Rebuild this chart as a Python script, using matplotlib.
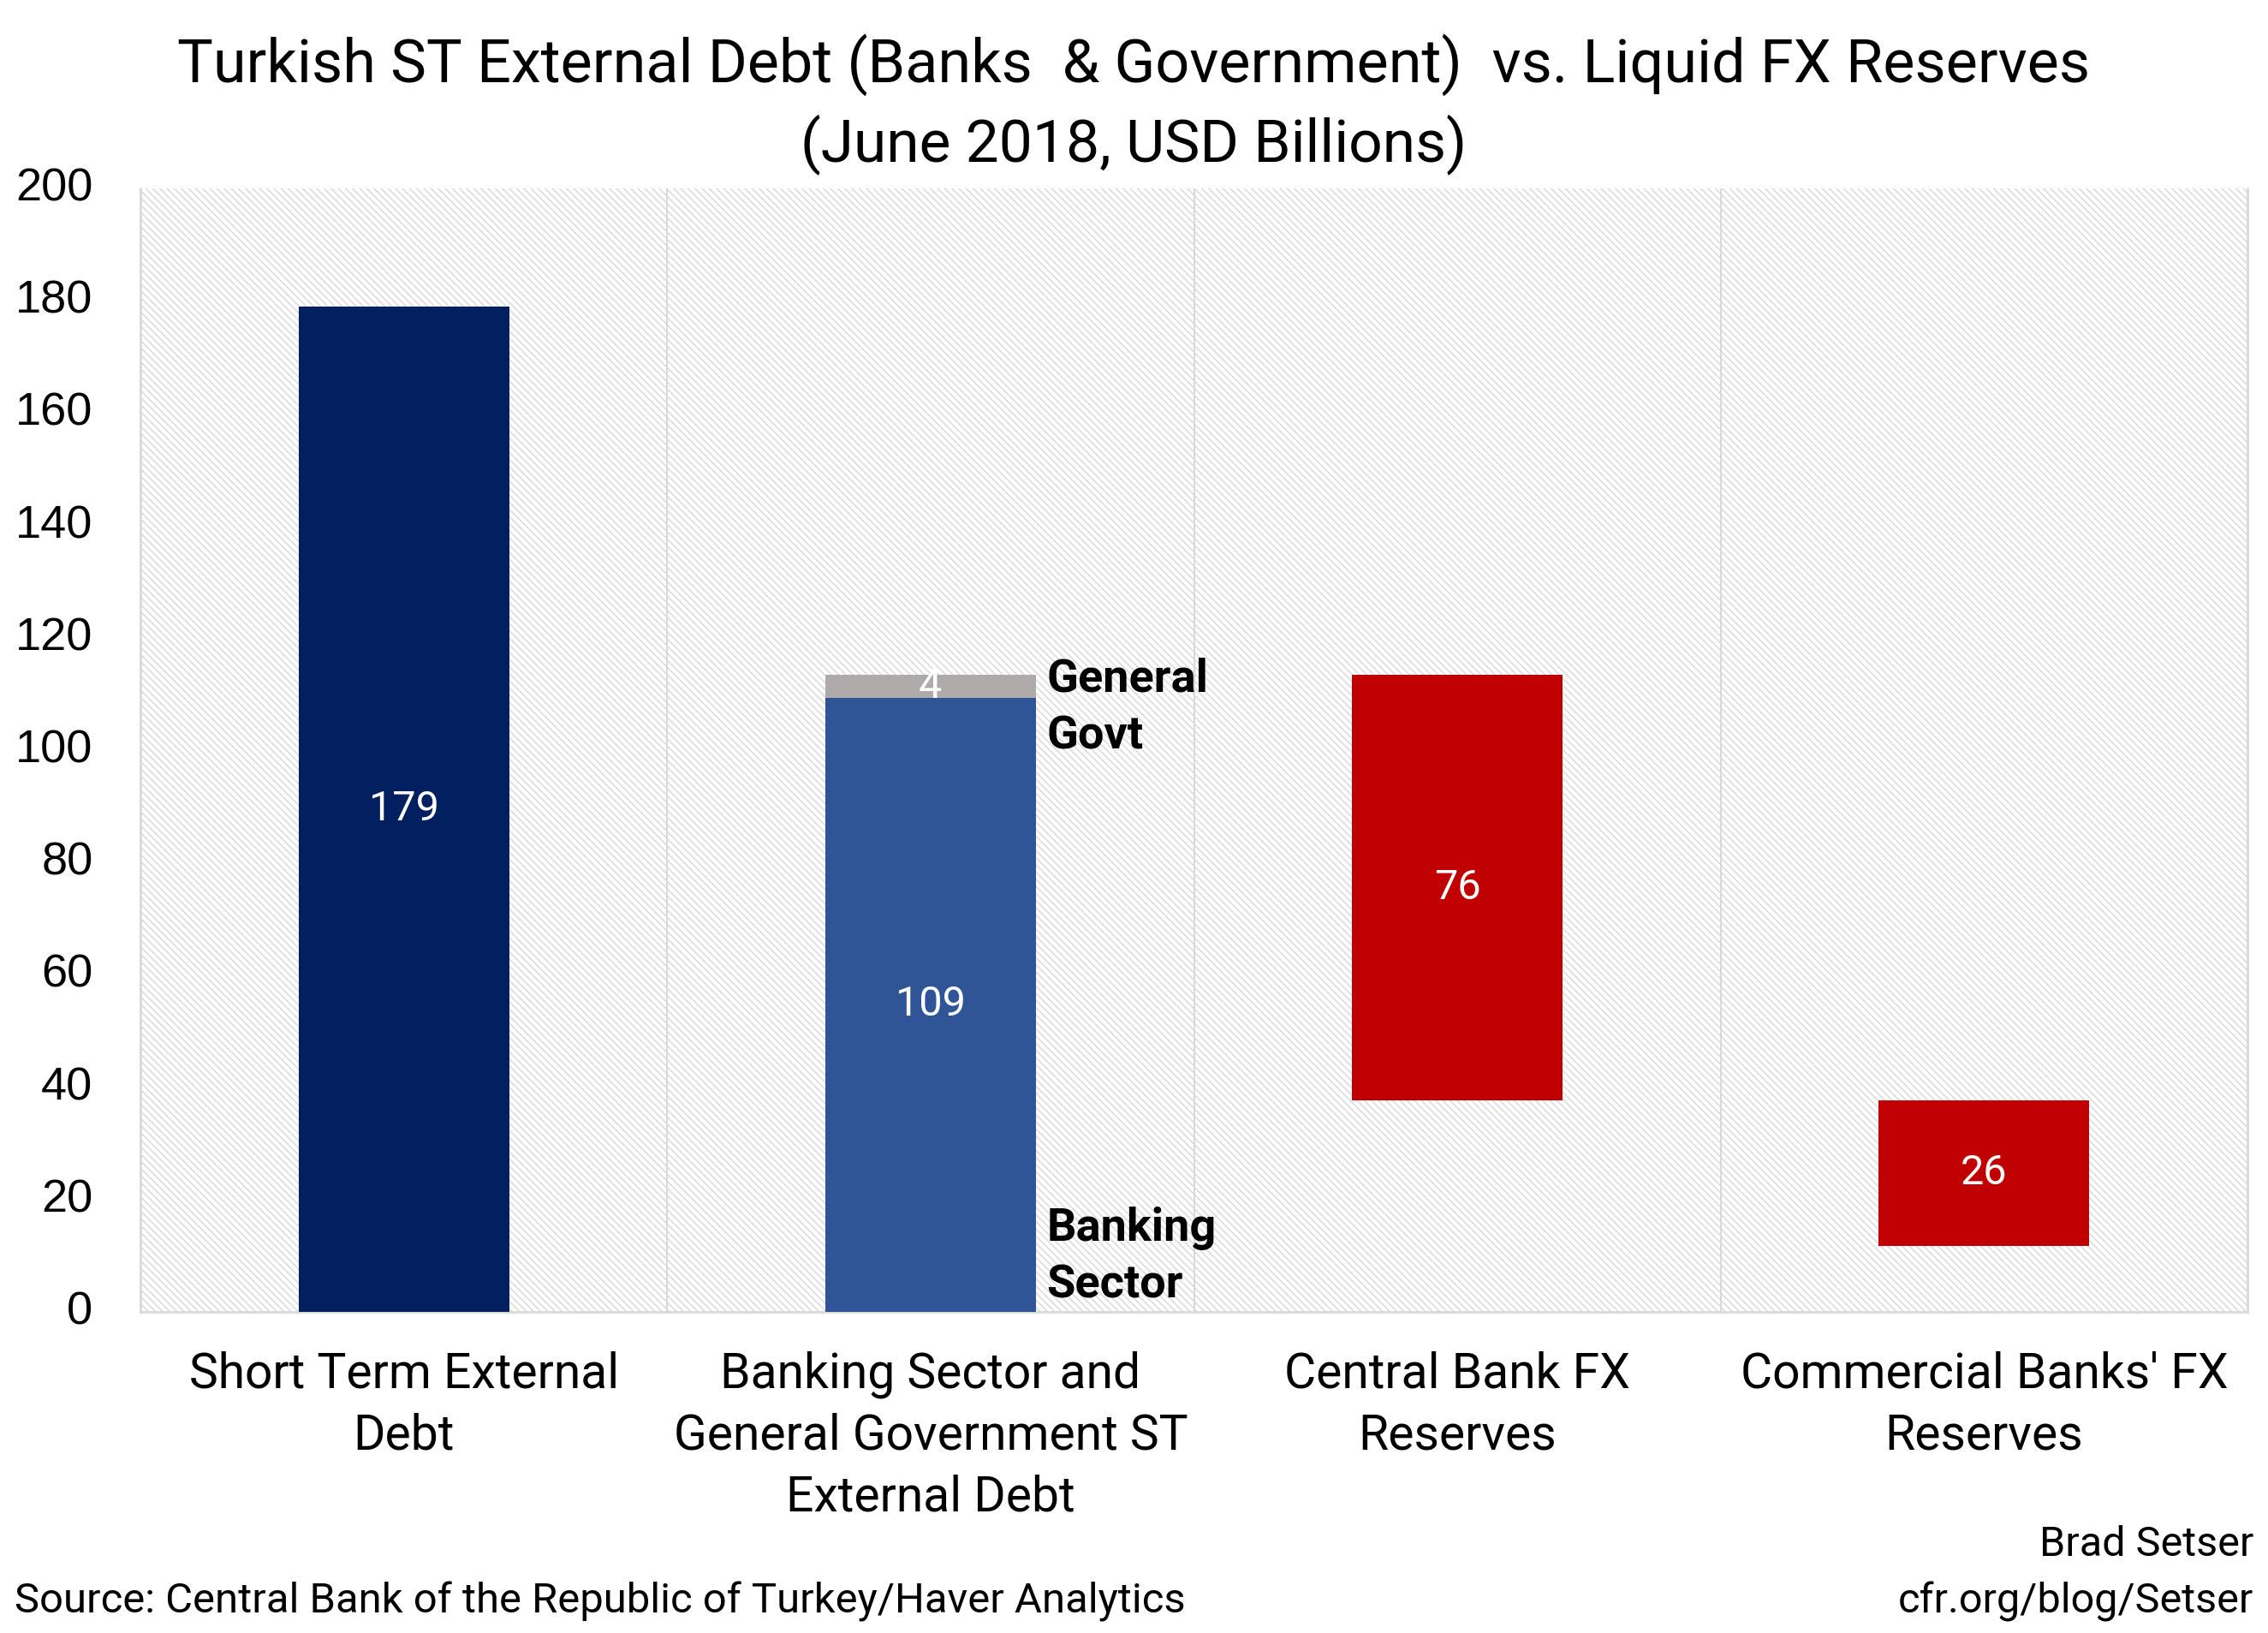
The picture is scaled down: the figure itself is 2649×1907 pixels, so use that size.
import matplotlib
matplotlib.use("Agg")
import matplotlib.pyplot as plt
from matplotlib.patches import Rectangle
from matplotlib.transforms import ScaledTranslation

# ---- data ----
categories = ["Short Term External\nDebt",
              "Banking Sector and\nGeneral Government ST\nExternal Debt",
              "Central Bank FX\nReserves",
              "Commercial Banks' FX\nReserves"]
st_external_debt = 179.0
banking_sector = 109.3
general_govt = 4.1
cb_fx_reserves = 75.8
commercial_fx_reserves = 25.9
yticks = [0, 20, 40, 60, 80, 100, 120, 140, 160, 180, 200]

FONT = "Roboto"
plt.rcParams['font.family'] = [FONT, 'DejaVu Sans']
plt.rcParams['hatch.linewidth'] = 0.9
plt.rcParams['hatch.color'] = '#d3d3d3'

fig = plt.figure(figsize=(26.49, 19.07), dpi=100)
ax = fig.add_axes([164/2649, 1-1532/1907, (2625-164)/2649, (1532-220)/1907])

# hatched background
bg = Rectangle((0, 0), 1, 1, transform=ax.transAxes, facecolor='white',
               edgecolor='#d3d3d3', hatch='\\\\\\\\', linewidth=0, zorder=0)
ax.add_patch(bg)
ax.set_facecolor('white')

x = [0, 1, 2, 3]
w = 0.4
navy = '#02205F'
blue = '#2F5597'
grey = '#AEAAAA'
red = '#C00000'

govt_top = banking_sector + general_govt
cb_bottom = govt_top - cb_fx_reserves
comm_bottom = cb_bottom - commercial_fx_reserves

ax.bar(x[0], st_external_debt, width=w, color=navy, zorder=3)
ax.bar(x[1], banking_sector, width=w, color=blue, zorder=3)
ax.bar(x[1], general_govt, bottom=banking_sector, width=w, color=grey, zorder=3)
ax.bar(x[2], cb_fx_reserves, bottom=cb_bottom, width=w, color=red, zorder=3)
ax.bar(x[3], commercial_fx_reserves, bottom=comm_bottom, width=w, color=red, zorder=3)

lab_fs = 35
ax.text(x[0], st_external_debt/2, f"{st_external_debt:.0f}", color='white',
        ha='center', va='center', fontsize=lab_fs, zorder=4)
ax.text(x[1], banking_sector/2, f"{banking_sector:.0f}", color='white',
        ha='center', va='center', fontsize=lab_fs, zorder=4)
ax.text(x[1], banking_sector + general_govt/2, f"{general_govt:.0f}", color='white',
        ha='center', va='center', fontsize=lab_fs, zorder=4)
ax.text(x[2], cb_bottom + cb_fx_reserves/2, f"{cb_fx_reserves:.0f}", color='white',
        ha='center', va='center', fontsize=lab_fs, zorder=4)
ax.text(x[3], comm_bottom + commercial_fx_reserves/2, f"{commercial_fx_reserves:.0f}",
        color='white', ha='center', va='center', fontsize=lab_fs, zorder=4)

ax.text(x[1] + w/2 + 0.02, 107.5, "General\nGovt", fontsize=39, fontweight='bold',
        ha='left', va='center', linespacing=1.4, zorder=4)
ax.text(x[1] + w/2 + 0.02, 9.8, "Banking\nSector", fontsize=39, fontweight='bold',
        ha='left', va='center', linespacing=1.4, zorder=4)

ax.set_xlim(-0.5, 3.5)
ax.set_ylim(0, 200)
ax.set_yticks(yticks)
ax.set_yticklabels([str(t) for t in yticks], fontsize=39, family=['Liberation Sans'])
ax.set_xticks(x)
ax.set_xticklabels(categories, fontsize=41, linespacing=1.38)
ax.tick_params(axis='both', length=0)
ax.tick_params(axis='y', pad=40)
ax.tick_params(axis='x', pad=33)
off = ScaledTranslation(0, 5/100, fig.dpi_scale_trans)
for lbl in ax.get_yticklabels():
    lbl.set_transform(lbl.get_transform() + off)

for b in [0.5, 1.5, 2.5]:
    ax.axvline(b, color='#d9d9d9', lw=1.5, zorder=1)

for s in ['left', 'bottom', 'right']:
    ax.spines[s].set_color('#d9d9d9')
    ax.spines[s].set_linewidth(2)
ax.spines['top'].set_visible(False)

fig.text(0.5, 1-76/1907, "Turkish ST External Debt (Banks  & Government)  vs. Liquid FX Reserves",
         ha='center', va='center', fontsize=50.5)
fig.text(0.5, 1-169/1907, "(June 2018, USD Billions)", ha='center', va='center', fontsize=50)

fig.text(17/2649, 1-1870/1907, "Source: Central Bank of the Republic of Turkey/Haver Analytics",
         ha='left', va='center', fontsize=35.3)
fig.text(2632/2649, 1-1804/1907, "Brad Setser", ha='right', va='center', fontsize=35)
fig.text(2632/2649, 1-1870/1907, "cfr.org/blog/Setser", ha='right', va='center', fontsize=35)

fig.savefig("out.png", dpi=100)
